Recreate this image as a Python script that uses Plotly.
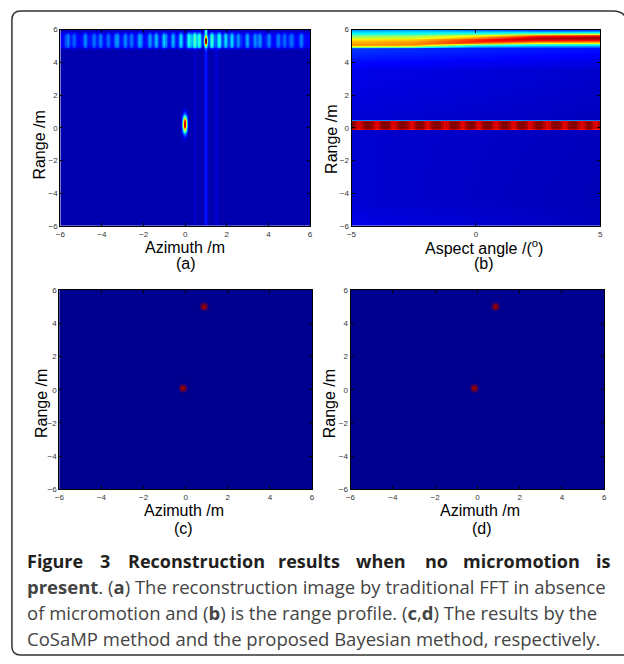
import numpy as np
import plotly.graph_objects as go

W, H = 624, 664

# ---------------- data ----------------
# Panel (a): traditional FFT image (azimuth / range, metres), jet level 0..1
a_target_az = [0.0, 1.0, 1.0]
a_target_rng = [0.20, 5.30, 5.90]
a_target_amp = [0.95, 0.90, 0.28]
a_target_saz = [0.08, 0.055, 0.05]
a_target_srng = [0.36, 0.22, 0.12]

a_stripe_az = [-5.65, -5.34, -4.78, -4.39, -4.07, -3.68, -3.28, -2.88, -2.57, -2.17,
               -1.70, -1.38, -0.99, -0.59, -0.20, 0.20, 0.44, 0.67, 1.30, 1.62,
               1.94, 2.25, 2.57, 2.97, 3.36, 3.60, 4.00, 4.47, 4.78, 5.10, 5.57]
a_stripe_amp = [0.13, 0.10, 0.14, 0.12, 0.13, 0.11, 0.16, 0.14, 0.12, 0.17,
                0.16, 0.19, 0.21, 0.18, 0.23, 0.29, 0.31, 0.31, 0.32, 0.30,
                0.23, 0.22, 0.15, 0.17, 0.14, 0.15, 0.14, 0.13, 0.11, 0.11, 0.13]
a_band_center = 5.33
a_band_halfwidth = 0.50
a_band_floor = 0.08
a_streak_az = [1.00, 0.45, 1.50]
a_streak_amp = [0.11, 0.03, 0.035]
a_background = 0.03

# Panel (b): range profile versus aspect angle (degrees / metres)
b_top_ang = [-5.0, -2.5, 0.0, 2.5, 5.0]
b_top_ctr = [5.05, 5.08, 5.28, 5.45, 5.48]
b_top_peak = [0.72, 0.74, 0.84, 0.95, 0.98]
b_top_slo = [0.14, 0.15, 0.22, 0.30, 0.31]
b_top_shi = [0.62, 0.60, 0.40, 0.26, 0.24]
b_row_rng = 0.13
b_row_halfwidth = 0.29
b_row_level = 1.0
b_bead_ang = [-4.67, -3.98, -3.29, -2.58, -1.93, -1.23, -0.54, 0.12, 0.82, 1.51,
              2.19, 2.87, 3.56, 4.25, 4.81]
b_bead_dip = 0.10
b_bg_rng = [-6.0, -4.5, 0.0, 3.5, 4.7, 6.0]
b_bg_left = [0.09, 0.065, 0.065, 0.09, 0.16, 0.09]
b_bg_right = [0.045, 0.04, 0.045, 0.06, 0.12, 0.09]

# Panels (c) and (d): sparse reconstructions (two point scatterers)
c_target_az = [0.88, -0.12]
c_target_rng = [5.00, 0.08]
d_target_az = [0.86, -0.14]
d_target_rng = [5.00, 0.08]

# tick labels
xy_ticks = [-6, -4, -2, 0, 2, 4, 6]
b_xticks = [-5, 0, 5]

# ---------------- colours / styling ----------------
jet = [[0.0, 'rgb(0,0,143)'], [0.11, 'rgb(0,0,255)'], [0.365, 'rgb(0,255,255)'],
       [0.62, 'rgb(255,255,0)'], [0.873, 'rgb(255,0,0)'], [1.0, 'rgb(128,0,0)']]
AXFONT = 'Liberation Sans, Arial, sans-serif'

# ---------------- build images ----------------
ax = np.arange(-6 + 0.025, 6, 0.05)
ry = np.arange(-6 + 0.025, 6, 0.05)
X, Y = np.meshgrid(ax, ry)

stripes = np.full_like(ax, a_band_floor)
for s_az, s_amp in zip(a_stripe_az, a_stripe_amp):
    stripes = stripes + s_amp * np.exp(-(ax - s_az) ** 2 / (2 * 0.075 ** 2))
band = np.exp(-((ry - a_band_center) / a_band_halfwidth) ** 6)
za = a_background + np.outer(band, stripes)
streak = np.zeros_like(ax)
for s_az, s_amp in zip(a_streak_az, a_streak_amp):
    streak = streak + s_amp * np.exp(-(ax - s_az) ** 2 / (2 * 0.055 ** 2))
za = za + streak[None, :]
for t_az, t_r, t_a, t_sx, t_sy in zip(a_target_az, a_target_rng, a_target_amp,
                                      a_target_saz, a_target_srng):
    za = za + t_a * np.exp(-(X - t_az) ** 2 / (2 * t_sx ** 2) - (Y - t_r) ** 2 / (2 * t_sy ** 2))
za = np.clip(za, 0, 1).round(3)

bx = np.arange(-5 + 0.05, 5, 0.1)
BX, BY = np.meshgrid(bx, ry)
fr = (bx + 5) / 10.0
bg_l = np.interp(ry, b_bg_rng, b_bg_left)
bg_r = np.interp(ry, b_bg_rng, b_bg_right)
zb = bg_l[:, None] * (1 - fr[None, :]) + bg_r[:, None] * fr[None, :]
ctr = np.interp(bx, b_top_ang, b_top_ctr)[None, :]
pk = np.interp(bx, b_top_ang, b_top_peak)[None, :]
slo = np.interp(bx, b_top_ang, b_top_slo)[None, :]
shi = np.interp(bx, b_top_ang, b_top_shi)[None, :]
sig = np.where(BY < ctr, slo, shi)
top = pk * np.exp(-(BY - ctr) ** 2 / (2 * sig ** 2))
zb = np.maximum(zb, top)
row_amp = np.full_like(bx, b_row_level)
for b_a in b_bead_ang:
    row_amp = row_amp - b_bead_dip * np.exp(-(bx - b_a) ** 2 / (2 * 0.11 ** 2))
row = row_amp[None, :] * np.exp(-((BY - b_row_rng) / b_row_halfwidth) ** 20)
zb = np.maximum(zb, row)
zb = np.clip(zb, 0, 1).round(3)

fig = go.Figure()


def px_dom(l, r, t, b):
    return [l / W, r / W], [1 - b / H, 1 - t / H]


panels = {
    '': px_dom(56, 309, 26, 225),
    '2': px_dom(351, 603, 26, 225),
    '3': px_dom(55, 311, 290, 492),
    '4': px_dom(350, 607, 290, 492),
}

fig.add_trace(go.Heatmap(x=ax, y=ry, z=za, colorscale=jet, zmin=0, zmax=1,
                         showscale=False, hoverinfo='skip', xaxis='x', yaxis='y'))
fig.add_trace(go.Heatmap(x=bx, y=ry, z=zb, colorscale=jet, zmin=0, zmax=1,
                         showscale=False, hoverinfo='skip', xaxis='x2', yaxis='y2'))
for k, t_az, t_r in (('3', c_target_az, c_target_rng), ('4', d_target_az, d_target_rng)):
    fig.add_trace(go.Heatmap(x=[-6, 6], y=[-6, 6], z=[[0, 0], [0, 0]], colorscale=jet,
                             zmin=0, zmax=1, showscale=False, hoverinfo='skip',
                             xaxis='x' + k, yaxis='y' + k))
    fig.add_trace(go.Scatter(x=t_az, y=t_r, mode='markers', hoverinfo='skip',
                             marker=dict(size=9, color='rgba(128,0,40,0.45)', line=dict(width=0)),
                             xaxis='x' + k, yaxis='y' + k, showlegend=False))
    fig.add_trace(go.Scatter(x=t_az, y=t_r, mode='markers', hoverinfo='skip',
                             marker=dict(size=5, color='rgb(140,0,0)', line=dict(width=0)),
                             xaxis='x' + k, yaxis='y' + k, showlegend=False))

common = dict(showline=True, linecolor='black', linewidth=1, mirror='ticks',
              ticks='inside', ticklen=3, tickcolor='black', tickwidth=1,
              showgrid=False, zeroline=False, fixedrange=True,
              tickfont=dict(family=AXFONT, size=8, color='#333'))
layout = dict(width=W, height=H, margin=dict(l=0, r=0, t=0, b=0),
              paper_bgcolor='white', plot_bgcolor='white', showlegend=False)
for k, (xd, yd) in panels.items():
    xt = b_xticks if k == '2' else xy_ticks
    xr = [-5, 5] if k == '2' else [-6, 6]
    layout['xaxis' + k] = dict(common, domain=xd, range=xr, tickvals=xt,
                               anchor='y' + k)
    layout['yaxis' + k] = dict(common, domain=yd, range=[-6, 6], tickvals=xy_ticks,
                               anchor='x' + k)
fig.update_layout(**layout)


def ann(text, x, y, size=16, family=AXFONT, color='black', xanchor='center', angle=0):
    fig.add_annotation(text=text, x=x / W, y=1 - y / H, xref='paper', yref='paper',
                       showarrow=False, xanchor=xanchor, yanchor='middle',
                       textangle=angle, borderpad=0,
                       font=dict(family=family, size=size, color=color))


ann('Azimuth /m', 182.5, 247)
ann('(a)', 183, 263)
ann('Aspect angle /(<sup>o</sup>)', 485, 246)
ann('(b)', 485, 263)
ann('Azimuth /m', 181, 513)
ann('(c)', 181, 532)
ann('Azimuth /m', 481, 513)
ann('(d)', 483, 532)
ann('Range /m', 35, 143, angle=-90)
ann('Range /m', 330, 137, angle=-90)
ann('Range /m', 37, 405, angle=-90)
ann('Range /m', 329, 405, angle=-90)

# caption (first line justified word by word)
CAP = 'Open Sans, Noto Sans, sans-serif'
line1_words = ['Figure', '3', 'Reconstruction', 'results', 'when', 'no', 'micromotion', 'is']
line1_x = [21, 95, 124, 276, 355, 424, 463, 598]
for wd, wx in zip(line1_words, line1_x):
    ann('<b>' + wd + '</b>', wx, 565, size=18, family=CAP, color='#231f20', xanchor='left')
ann('<b>present</b>. (<b>a</b>) The reconstruction image by traditional FFT in absence',
    21, 591, size=18.5, family=CAP, color='#444', xanchor='left')
ann('of micromotion and (<b>b</b>) is the range profile. (<b>c</b>,<b>d</b>) The results by the',
    21, 617, size=18.5, family=CAP, color='#444', xanchor='left')
ann('CoSaMP method and the proposed Bayesian method, respectively.',
    21, 643, size=18.5, family=CAP, color='#444', xanchor='left')

# rounded frame


def P(x, y):
    return f'{x / W:.5f},{1 - y / H:.5f}'


frame = ('M ' + P(7, 651) + ' L ' + P(7, 16) + ' Q ' + P(7, 7) + ' ' + P(16, 7) +
         ' L ' + P(616, 7) + ' Q ' + P(630, 7) + ' ' + P(630, 21) +
         ' L ' + P(630, 660) + ' L ' + P(16, 660) + ' Q ' + P(7, 660) + ' ' + P(7, 651) + ' Z')
fig.add_shape(type='path', path=frame, xref='paper', yref='paper',
              line=dict(color='#333', width=1.5), fillcolor='rgba(0,0,0,0)')

fig.write_html('out.html', config={'displayModeBar': False},
               post_script="document.body.style.margin='0';document.body.style.overflow='hidden';")
